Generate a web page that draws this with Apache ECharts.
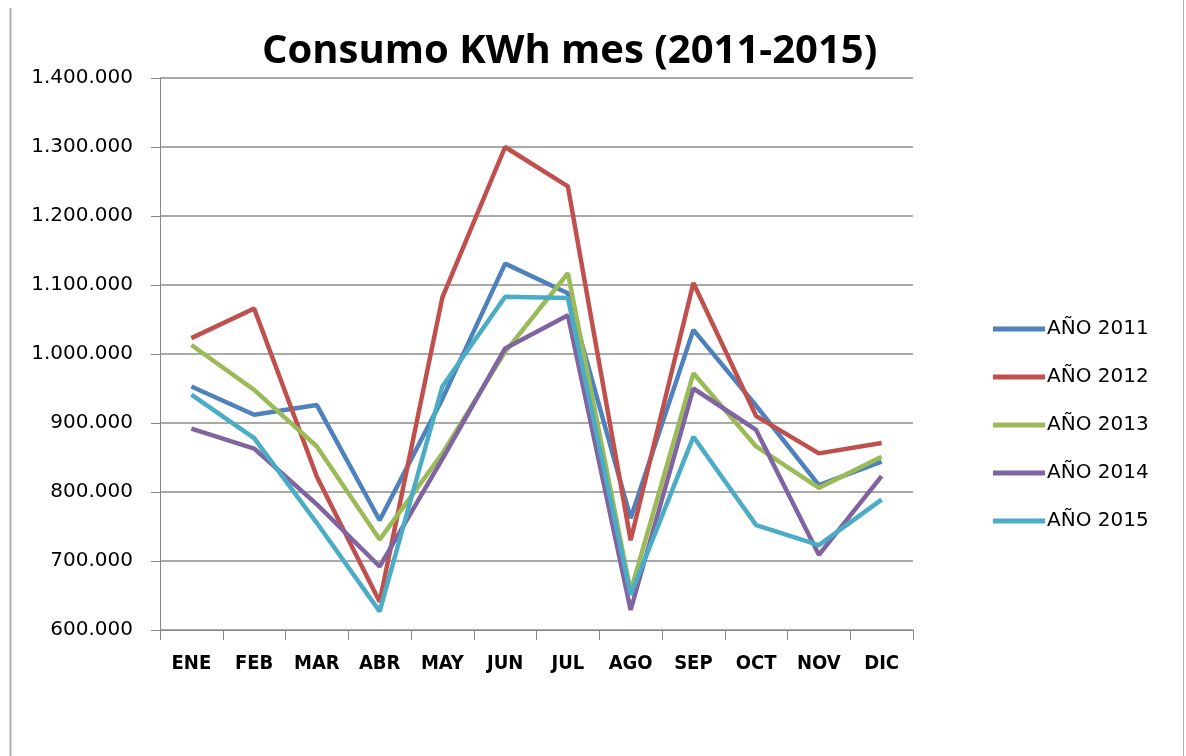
<!DOCTYPE html>
<html>
<head>
<meta charset="utf-8">
<title>Consumo KWh mes</title>
<script src="https://cdn.jsdelivr.net/npm/echarts@6/dist/echarts.min.js"></script>
<style>
html,body{margin:0;padding:0;background:#fff;}
#chartmain{width:1186px;height:756px;}
</style>
</head>
<body>
<div id="chartmain"></div>
<script>
var meses = ['ENE','FEB','MAR','ABR','MAY','JUN','JUL','AGO','SEP','OCT','NOV','DIC'];
var anios = ['AÑO 2011','AÑO 2012','AÑO 2013','AÑO 2014','AÑO 2015'];
var colores = ['#4F81BD','#C0504D','#9BBB59','#8064A2','#4BACC6'];

var a2011 = [953000, 912000, 926000, 759000, 935000, 1131000, 1088000, 762000, 1035000, 925000, 810000, 844000];
var a2012 = [1023000, 1066000, 822000, 641000, 1082000, 1300000, 1243000, 730000, 1103000, 910000, 856000, 871000];
var a2013 = [1013000, 948000, 866000, 731000, 856000, 1003000, 1117000, 656000, 972000, 866000, 806000, 851000];
var a2014 = [892000, 863000, 782000, 692000, 848000, 1008000, 1056000, 629000, 950000, 890000, 709000, 823000];
var a2015 = [941000, 878000, 755000, 627000, 953000, 1083000, 1081000, 651000, 880000, 752000, 723000, 789000];
var datos = [a2011, a2012, a2013, a2014, a2015];

function miles(v){
    return String(v).replace(/\B(?=(\d{3})+(?!\d))/g, '.');
}

var series = [];
for (var i = 0; i < anios.length; i++) {
    series.push({
        name: anios[i],
        type: 'line',
        data: datos[i],
        symbol: 'none',
        lineStyle: { width: 4.5, color: colores[i] },
        itemStyle: { color: colores[i] }
    });
}

var option = {
    backgroundColor: '#fff',
    animation: false,
    title: {
        text: 'Consumo KWh mes (2011-2015)',
        left: 262,
        top: 32,
        padding: 0,
        textStyle: {
            fontFamily: "'Open Sans', 'Liberation Sans', sans-serif",
            fontWeight: 'bold',
            fontSize: 40,
            color: '#000'
        }
    },
    legend: {
        orient: 'vertical',
        left: 993,
        top: 319,
        padding: 0,
        itemWidth: 52,
        itemHeight: 5,
        itemGap: 28,
        icon: 'rect',
        data: anios,
        textStyle: {
            fontFamily: "'DejaVu Sans', sans-serif",
            fontSize: 20,
            lineHeight: 20,
            color: '#000',
            padding: [0, 0, 0, -3]
        }
    },
    grid: { left: 160, right: 273, top: 78, bottom: 126 },
    xAxis: {
        type: 'category',
        data: meses,
        boundaryGap: true,
        axisLine: { lineStyle: { color: '#868686', width: 1 } },
        axisTick: { show: true, length: 10, alignWithLabel: false, lineStyle: { color: '#868686' } },
        axisLabel: {
            margin: 24,
            color: '#000',
            fontFamily: "'Liberation Sans Narrow', 'DejaVu Sans Condensed', sans-serif",
            fontWeight: 'bold',
            fontSize: 20
        }
    },
    yAxis: {
        type: 'value',
        min: 600000,
        max: 1400000,
        interval: 100000,
        axisLine: { show: true, lineStyle: { color: '#868686', width: 1 } },
        axisTick: { show: true, length: 9, lineStyle: { color: '#868686' } },
        splitLine: { lineStyle: { color: '#8c8c8c', width: 1.5 } },
        axisLabel: {
            margin: 27,
            color: '#000',
            fontFamily: "'DejaVu Sans', sans-serif",
            fontSize: 20,
            formatter: function (v) { return miles(v); }
        }
    },
    graphic: [
        { type: 'line', shape: { x1: 10.5, y1: 8, x2: 10.5, y2: 756 }, style: { stroke: '#b0b0b0', lineWidth: 2 } },
        { type: 'line', shape: { x1: 1183.5, y1: 0, x2: 1183.5, y2: 756 }, style: { stroke: '#b0b0b0', lineWidth: 1 } }
    ],
    series: series
};

var myChart = echarts.init(document.getElementById('chartmain'));
myChart.setOption(option);
</script>
</body>
</html>
